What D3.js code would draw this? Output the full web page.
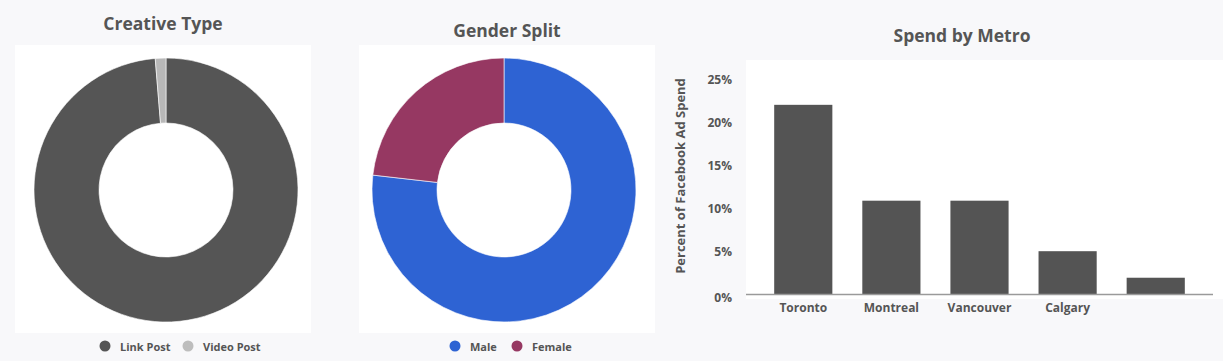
<!DOCTYPE html>
<html><head><meta charset="utf-8">
<script src="https://cdn.jsdelivr.net/npm/d3@7"></script>
<style>
html,body{margin:0;padding:0;background:#f8f8fa;}
svg{display:block;font-family:"Open Sans",sans-serif;}
</style></head>
<body><svg id="c" width="1223" height="361"></svg>
<script>
const creativeLabels = ["Link Post", "Video Post"];
const creativeValues = [98.7, 1.3];
const creativeColors = ["#555555", "#b8b8b8"];

const genderLabels = ["Male", "Female"];
const genderValues = [76.8, 23.2];
const genderColors = ["#2e63d3", "#963862"];

const metroCategories = ["Toronto", "Montreal", "Vancouver", "Calgary", ""];
const metroValues = [22.1, 10.9, 10.9, 5.0, 1.9];
const yTicks = [0, 5, 10, 15, 20, 25];

const svg = d3.select("#c");
const textColor = "#555555";

function donut(cfg) {
  svg.append("rect").attr("x", cfg.px).attr("y", 45).attr("width", 296).attr("height", 288).attr("fill", "#fff");
  svg.append("text").attr("x", cfg.tx).attr("y", cfg.ty).attr("text-anchor", "middle")
    .attr("dominant-baseline", "central").attr("font-size", 17.5).attr("font-weight", 700)
    .attr("fill", textColor).text(cfg.title);
  const pie = d3.pie().sort(null).value(d => d)(cfg.values);
  const arc = d3.arc().innerRadius(67).outerRadius(132);
  const g = svg.append("g").attr("transform", `translate(${cfg.cx},190)`);
  g.selectAll("path").data(pie).join("path").attr("d", arc)
    .attr("fill", (d, i) => cfg.colors[i]).attr("stroke", "#fff").attr("stroke-width", 0.6);
  const lg = svg.append("g");
  cfg.labels.forEach((l, i) => {
    lg.append("circle").attr("cx", cfg.lx[i]).attr("cy", 346).attr("r", 5.5).attr("fill", cfg.dotColors[i]);
    lg.append("text").attr("x", cfg.lx[i] + 15).attr("y", 346).attr("dominant-baseline", "central")
      .attr("font-size", 11).attr("font-weight", 700).attr("fill", textColor).text(l);
  });
}

donut({px: 15, tx: 163, ty: 23, title: "Creative Type", cx: 166,
  values: creativeValues, colors: creativeColors, labels: creativeLabels,
  dotColors: ["#555555", "#bdbdbd"], lx: [105, 188]});
donut({px: 359, tx: 507, ty: 30, title: "Gender Split", cx: 504,
  values: genderValues, colors: genderColors, labels: genderLabels,
  dotColors: genderColors, lx: [455, 517]});

// Bar chart
svg.append("rect").attr("x", 746).attr("y", 60).attr("width", 477).attr("height", 239).attr("fill", "#fff");
svg.append("text").attr("x", 962).attr("y", 35).attr("text-anchor", "middle")
  .attr("dominant-baseline", "central").attr("font-size", 17.5).attr("font-weight", 700)
  .attr("fill", textColor).text("Spend by Metro");

const x = d3.scaleBand().domain(d3.range(metroCategories.length)).range([746, 1213])
  .paddingInner(0.34).paddingOuter(0.32);
const y = d3.scaleLinear().domain([0, 25]).range([294, 80]);

svg.append("g").selectAll("rect").data(metroValues).join("rect")
  .attr("x", (d, i) => x(i)).attr("width", x.bandwidth())
  .attr("y", d => y(d)).attr("height", d => y(0) - y(d)).attr("fill", "#545454");

svg.append("line").attr("x1", 746).attr("x2", 1213).attr("y1", y(0) + 0.5).attr("y2", y(0) + 0.5)
  .attr("stroke", "#9a9a9a").attr("stroke-width", 1.5);

const ya = svg.append("g").attr("transform", "translate(732,0)")
  .call(d3.axisLeft(y).tickValues(yTicks).tickSize(0).tickPadding(0).tickFormat(d => d + "%"));
ya.select(".domain").remove();
ya.selectAll("text").attr("font-family", "Open Sans").attr("font-size", 12).attr("font-weight", 700)
  .attr("fill", textColor).attr("dy", (d) => d === 0 ? "0.6em" : "0.32em");

const xa = svg.append("g").attr("transform", `translate(0,${y(0)})`)
  .call(d3.axisBottom(x).tickSize(0).tickPadding(9).tickFormat(i => metroCategories[i]));
xa.select(".domain").remove();
xa.selectAll("text").attr("font-family", "Open Sans").attr("font-size", 12).attr("font-weight", 700)
  .attr("fill", textColor);

svg.append("text").attr("transform", "translate(680,176) rotate(-90)").attr("text-anchor", "middle")
  .attr("dominant-baseline", "central").attr("font-size", 13).attr("font-weight", 700)
  .attr("fill", textColor).text("Percent of Facebook Ad Spend");
</script></body></html>
